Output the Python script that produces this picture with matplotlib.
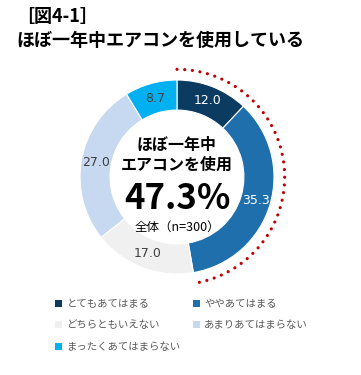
import numpy as np
import matplotlib
matplotlib.use('Agg')
import matplotlib.pyplot as plt
from matplotlib.patches import Patch

plt.rcParams['font.family'] = ['Noto Sans CJK JP', 'DejaVu Sans']

categories = ['とてもあてはまる', 'ややあてはまる', 'どちらともいえない',
              'あまりあてはまらない', 'まったくあてはまらない']
values = [12.0, 35.3, 17.0, 27.0, 8.7]
colors = ['#0B3B60', '#1F6FAD', '#F0F0F0', '#C7D9F0', '#00B0F0']
label_colors = ['white', 'white', '#404040', '#404040', '#404040']
title_lines = ['［図4-1］', 'ほぼ一年中エアコンを使用している']
center_title = 'ほぼ一年中\nエアコンを使用'
center_total = '全体（n=300）'

W, H = 361, 375
fig = plt.figure(figsize=(W / 100, H / 100), dpi=100)

# donut axes: centre at (177, 177) px from top-left, outer radius 97 px
cx, cy, R, L = 177, 177, 97, 1.2
size = 2 * L * R
ax = fig.add_axes([(cx - size / 2) / W, (H - cy - size / 2) / H, size / W, size / H])

width = 0.31
wedges, _ = ax.pie(values, colors=colors, startangle=90, counterclock=False,
                   radius=1.0, wedgeprops=dict(width=width, edgecolor='white', linewidth=0.8))
# pie() resets the limits, so set them afterwards
ax.set_xlim(-L, L)
ax.set_ylim(-L, L)
ax.set_aspect('equal')
ax.axis('off')

total = sum(values)
cum = np.cumsum([0] + values)
r_lab = 1 - width / 2
for i, v in enumerate(values):
    mid = (cum[i] + v / 2) / total * 2 * np.pi
    ax.text(r_lab * np.sin(mid), r_lab * np.cos(mid), f'{v:.1f}',
            ha='center', va='center', fontsize=9, color=label_colors[i],
            family='DejaVu Sans')

# dotted red arc over the "applies" share
share = values[0] + values[1]
th = np.linspace(0, share / total * 2 * np.pi, 300)
ax.plot(1.11 * np.sin(th), 1.11 * np.cos(th), color='#C00000', lw=2.3,
        linestyle=(0, (0.01, 2.4)), dash_capstyle='round')

ax.text(0, 0.23, center_title, ha='center', va='center', fontsize=11.5,
        fontweight='bold', linespacing=1.25)
ax.text(0, -0.22, f'{share:.1f}%', ha='center', va='center', fontsize=25,
        fontweight='bold')
ax.text(0, -0.52, center_total, ha='center', va='center', fontsize=9)

fig.text(16 / W, 1 - 17 / H, title_lines[0], ha='left', va='center',
         fontsize=13, fontweight='bold')
fig.text(16 / W, 1 - 41 / H, title_lines[1], ha='left', va='center',
         fontsize=13, fontweight='bold')

handles = [Patch(facecolor=c, edgecolor='none') for c in colors]
order = [0, 2, 4, 1, 3]
leg = fig.legend([handles[i] for i in order], [categories[i] for i in order],
                 ncol=2, loc='upper left', bbox_to_anchor=(55 / W, 1 - 299 / H),
                 frameon=False, fontsize=7.5, handlelength=0.7, handleheight=0.7,
                 handletextpad=0.4, columnspacing=1.15, labelspacing=1.1,
                 borderaxespad=0, borderpad=0)
for t in leg.get_texts():
    t.set_color('#595959')

fig.savefig('out.png', dpi=100)
